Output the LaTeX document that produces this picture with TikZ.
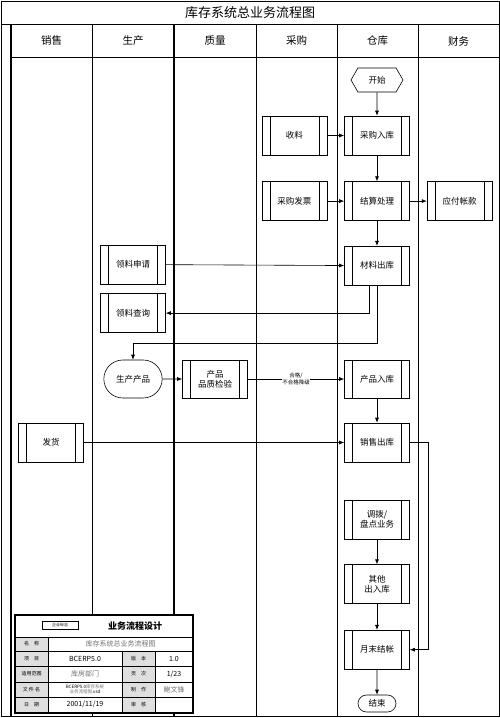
\documentclass[tikz,border=0pt]{standalone}
\usepackage{fontspec}
\setmainfont{Noto Sans CJK SC}
\usetikzlibrary{arrows.meta,positioning,shapes.misc,shapes.symbols}
\tikzset{%
    >={Latex[length=5pt,width=4pt]},
    every node/.style={font=\fontsize{8.5}{10}\selectfont},
    proc/.style={draw,minimum width=65pt,minimum height=39pt,inner sep=1pt,align=center,
        path picture={\draw ([xshift=8pt]path picture bounding box.north west) -- ([xshift=8pt]path picture bounding box.south west)
            ([xshift=-8pt]path picture bounding box.north east) -- ([xshift=-8pt]path picture bounding box.south east);}},
    term/.style={draw,rounded rectangle,minimum width=40pt,minimum height=17pt,inner sep=1pt},
    hex/.style={draw,signal,signal to=east and west,signal pointer angle=120,minimum width=52pt,minimum height=24pt,inner sep=1pt},
    lane/.style={font=\fontsize{10.5}{12}\selectfont},
    key/.style={font=\fontsize{5}{6}\selectfont},
    val/.style={font=\fontsize{7}{8}\selectfont},
    fade/.style={text=black!55}
}

\begin{document}
\begin{tikzpicture}[x=1pt,y=-1pt,line width=0.6pt]
    \useasboundingbox (0,0) rectangle (500,718);
    %%%%% frame and lanes
    \draw (1,1) rectangle (499,716);
    \draw (1,24) -- (499,24);
    \draw (11,57) -- (499,57);
    \draw[line width=1.6pt] (11,24) -- (11,716);
    \foreach \x in {92,256,337,418} \draw (\x,24) -- (\x,716);
    \draw[line width=1.1pt] (174,24) -- (174,716);
    \node[font=\fontsize{13}{15}\selectfont] (title) at (250,13) {库存系统总业务流程图};
    \foreach \x/\t [count=\i] in {51.5/销售,133/生产,215/质量,296.5/采购,377.5/仓库,458.5/财务}
        \node[lane] (lane\i) at (\x,41) {\t};
    %%%%% nodes
    \node [hex] (start) at (377,80) {开始};
    \node [proc] (cgrk) at (377,135.5) {采购入库};
    \node [proc,left=17pt of cgrk] (shouliao) {收料};
    \node [proc,below=26pt of cgrk] (jscl) {结算处理};
    \node [proc,left=17pt of jscl] (cgfp) {采购发票};
    \node [proc,right=17pt of jscl] (yfzk) {应付帐款};
    \node [proc,below=25pt of jscl] (clck) {材料出库};
    \node [proc] (llsq) at (133,264.5) {领料申请};
    \node [proc,below=9pt of llsq] (llcx) {领料查询};
    \node [draw,rounded rectangle,minimum width=65pt,minimum height=38pt] (sccp) at (133,379) {生产产品};
    \node [proc,minimum height=38pt] (pzjy) at (215,379) {产品\\品质检验};
    \node [proc,minimum height=38pt] (cprk) at (377,379) {产品入库};
    \node [proc] (xsck) at (377,442.5) {销售出库};
    \node [proc] (fahuo) at (51,442.5) {发货};
    \node [proc] (dbpd) at (377,519.5) {调拨/\\盘点业务};
    \node [proc,below=25pt of dbpd] (qtcrk) {其他\\出入库};
    \node [proc,below=26pt of qtcrk] (ymjz) {月末结帐};
    \node [term] (end) at (377,703.5) {结束};
    %%%%% connectors
    \draw[->] (start) -- (cgrk);
    \draw[->] (shouliao) -- (cgrk);
    \draw[->] (cgrk) -- (jscl);
    \draw[->] (cgfp) -- (jscl);
    \draw[->] (jscl) -- (yfzk);
    \draw[->] (jscl) -- (clck);
    \draw[->] (llsq) -- (clck);
    \draw[->] ([xshift=-8pt]clck.south) |- (llcx.east);
    \draw[->] (clck.south) -- ++(0,58) -| (sccp.north);
    \draw[->] (sccp) -- (pzjy);
    \draw[->] (pzjy) -- node[fill=white,inner sep=0.5pt,align=center,font=\fontsize{5.5}{6.5}\selectfont]
        {合格/\\不合格降级} (cprk);
    \draw[->] (cprk) -- (xsck);
    \draw[->] (fahuo) -- (xsck);
    \draw[->] (xsck.east) -- ++(18,0) |- (ymjz.east);
    \draw[->] (dbpd) -- (qtcrk);
    \draw[->] (qtcrk) -- (ymjz);
    \draw[->] (ymjz) -- (end);
    %%%%% design table
    \fill[white] (15,615) rectangle (193,713);
    \fill[gray!25] (15,637) rectangle (48,712);
    \fill[gray!25] (122,651) rectangle (155,712);
    \foreach \y in {637,651,666,682,697} \draw (15,\y) -- (193,\y);
    \draw (48,637) -- (48,712);
    \draw (122,651) -- (122,712);
    \draw (155,651) -- (155,712);
    \draw[line width=1.6pt] (15,615) rectangle (193,713);
    \node[draw,minimum width=36pt,minimum height=8pt,inner sep=0.5pt,font=\fontsize{4}{5}\selectfont] (logo) at (60,625) {企业标志};
    \node[font=\bfseries\fontsize{9}{11}\selectfont] (ttl) at (135,626) {业务流程设计};
    \node[key] (k1) at (31.5,644) {名\quad 称};
    \node[key] (k2) at (31.5,658.5) {项\quad 目};
    \node[key] (k3) at (31.5,674) {适用范围};
    \node[key] (k4) at (31.5,689.5) {文 件 名};
    \node[key] (k5) at (31.5,704.5) {日\quad 期};
    \node[key] (k6) at (138.5,658.5) {版\quad 本};
    \node[key] (k7) at (138.5,674) {页\quad 次};
    \node[key] (k8) at (138.5,689.5) {制\quad 作};
    \node[key] (k9) at (138.5,704.5) {审\quad 核};
    \node[val,fade] (v1) at (120.5,644) {库存系统总业务流程图};
    \node[val] (v2) at (85,658.5) {BCERP5.0};
    \node[val] (v3) at (174,658.5) {1.0};
    \node[val,fade] (v4) at (85,674) {库房部门};
    \node[val] (v5) at (174,674) {1/23};
    \node[align=center,font=\fontsize{4.5}{5}\selectfont] (v6) at (85,689.5) {BCERP5.0\textcolor{black!55}{库存系统}\\\textcolor{black!55}{业务流程图}.vsd};
    \node[val,fade] (v7) at (174,689.5) {鲍文锋};
    \node[val] (v8) at (85,704.5) {2001/11/19};
\end{tikzpicture}
\end{document}
